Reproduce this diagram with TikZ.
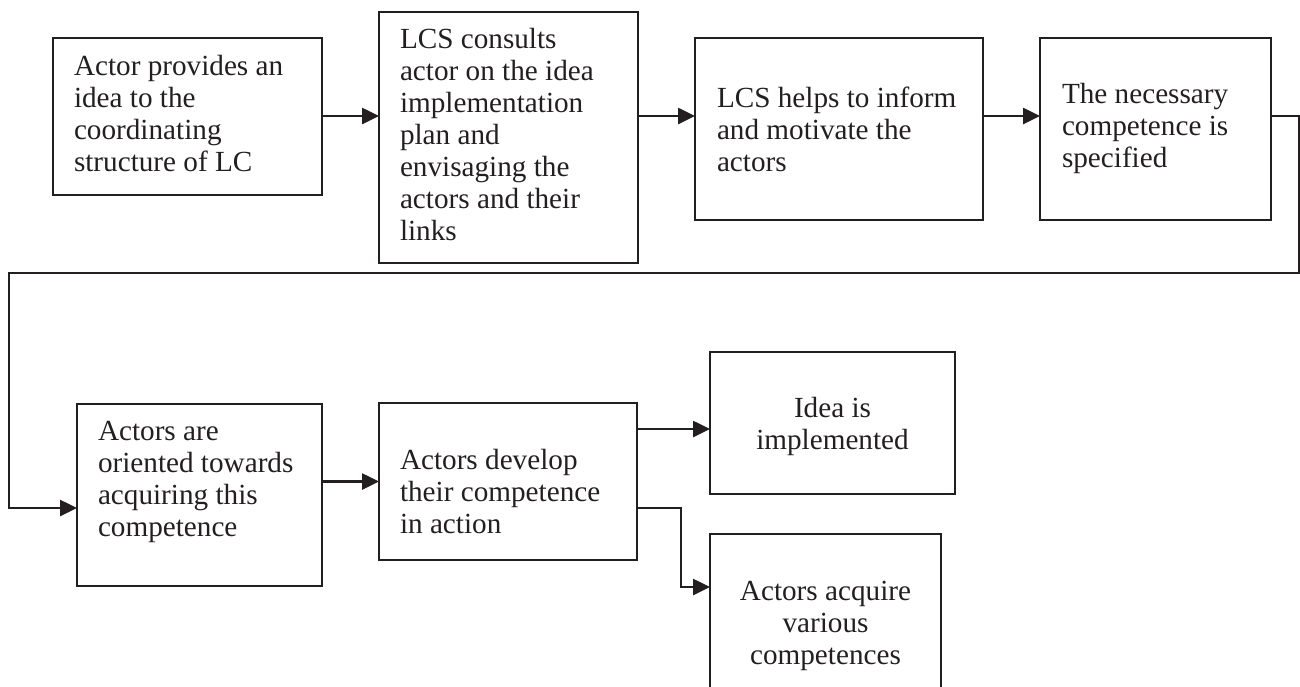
\documentclass[tikz,border=0pt]{standalone}
\usepackage{fontspec}
\setmainfont{Liberation Serif}
\usetikzlibrary{arrows.meta}
\definecolor{ink}{RGB}{35,31,32}
\begin{document}
\begin{tikzpicture}[x=1pt,y=-1pt,
  box/.style={draw=ink, line width=2.6pt, rectangle, inner sep=0pt, outer sep=0pt},
  txt/.style={text=ink, inner sep=0pt, outer sep=0pt, font=\fontsize{29.2}{32}\selectfont},
  flow/.style={draw=ink, line width=2.6pt, -{Triangle[length=17pt,width=16pt]}},
  wire/.style={draw=ink, line width=2.6pt}]
\useasboundingbox (0,0) rectangle (1300,686);
\clip (0,0) rectangle (1300,686);

% boxes of the first row
\node[box, minimum width=269pt, minimum height=157pt] (b1) at (187.5,116.5) {};
\node[box, minimum width=259pt, minimum height=251pt] (b2) at (508.5,137.5) {};
\node[box, minimum width=288pt, minimum height=182pt] (b3) at (839,129) {};
\node[box, minimum width=231pt, minimum height=182pt] (b4) at (1155.5,129) {};
% boxes of the second row
\node[box, minimum width=245pt, minimum height=182pt] (b5) at (199.5,495) {};
\node[box, minimum width=258pt, minimum height=157pt] (b6) at (508,481.5) {};
\node[box, minimum width=245pt, minimum height=142pt] (idea) at (832.5,423) {};
\node[box, minimum width=231pt, minimum height=186pt] (acq) at (825.5,627) {};

% texts, placed by the baseline of their last line
\node[txt, align=left, anchor=base west] (t1) at (74,171)
  {Actor provides an\\idea to the\\coordinating\\structure of LC};
\node[txt, align=left, anchor=base west] (t2) at (400,240)
  {LCS consults\\actor on the idea\\implementation\\plan and\\envisaging the\\actors and their\\links};
\node[txt, align=left, anchor=base west] (t3) at (717,171)
  {LCS helps to inform\\and motivate the\\actors};
\node[txt, align=left, anchor=base west] (t4) at (1062,167)
  {The necessary\\competence is\\specified};
\node[txt, align=left, anchor=base west] (t5) at (98,536)
  {Actors are\\oriented towards\\acquiring this\\competence};
\node[txt, align=left, anchor=base west] (t6) at (400,533)
  {Actors develop\\their competence\\in action};
\node[txt, align=center, anchor=base] (t7) at (832.5,449)
  {Idea is\\implemented};
\node[txt, align=center, anchor=base] (t8) at (825.5,664)
  {Actors acquire\\various\\competences};

% heights of the link lines
\coordinate (rowA) at (0,116);
\coordinate (rowB) at (0,508);
\coordinate (rowC) at (0,429);
\coordinate (rowD) at (0,587);
\coordinate (turnR) at (1299,273);
\coordinate (turnL) at (9,273);
\coordinate (drop) at (681,508);

% links
\draw[flow] (b1.east |- rowA) -- (b2.west |- rowA);
\draw[flow] (b2.east |- rowA) -- (b3.west |- rowA);
\draw[flow] (b3.east |- rowA) -- (b4.west |- rowA);
\draw[flow] (b4.east |- rowA) -| (turnR) -- (turnL) |- (b5.west |- rowB);
\draw[flow] (b5.east |- b6.west) -- (b6.west);
\draw[flow] (b6.east |- rowC) -- (idea.west |- rowC);
\draw[flow] (b6.east |- rowB) -- (drop) |- (acq.west |- rowD);
\end{tikzpicture}
\end{document}
